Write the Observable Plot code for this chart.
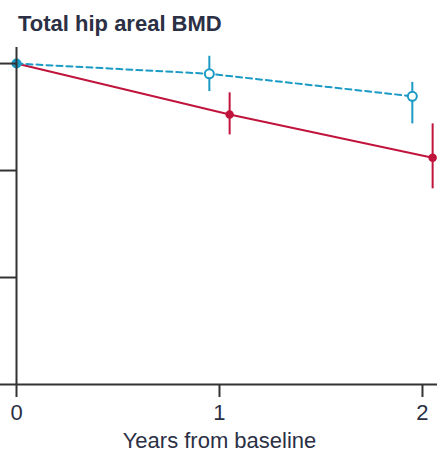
<!DOCTYPE html>
<html>
<head>
<meta charset="utf-8">
<script src="https://cdn.jsdelivr.net/npm/d3@7"></script>
<script src="https://cdn.jsdelivr.net/npm/@observablehq/plot@0.6"></script>
<style>
  html, body { margin: 0; padding: 0; background: #fff; }
  #wrap { position: relative; width: 437px; height: 452px; overflow: hidden; }
  #title {
    position: absolute; left: 18px; top: 13px;
    font-family: "Liberation Sans Narrow", "Liberation Sans", sans-serif;
    font-weight: bold; font-size: 22px; line-height: 1; color: #2b3045;
    white-space: nowrap;
  }
  #chart { position: absolute; left: 0; top: 38px; }
</style>
</head>
<body>
<div id="wrap">
  <div id="title">Total hip areal BMD</div>
  <div id="chart"></div>
</div>
<script>
// ---- data (percent change in total hip areal BMD) ----
const years = [0, 1, 2];
const groupAMean  = [0, -0.096, -0.306];   // blue, open circles, dashed
const groupALower = [0, -0.262, -0.564];
const groupAUpper = [0,  0.068, -0.176];
const groupBMean  = [0, -0.477, -0.881];   // red, filled circles, solid
const groupBLower = [0, -0.667, -1.171];
const groupBUpper = [0, -0.274, -0.564];
const xTicks = [0, 1, 2];
const yTicks = [0, -1, -2, -3];
const xLabel = "Years from baseline";

const blue = "#1a9ac4";
const red = "#c0143c";
const ink = "#2b3045";

const rowsA = years.map((yr, i) => ({year: yr, mean: groupAMean[i], lo: groupALower[i], hi: groupAUpper[i]}));
const rowsB = years.map((yr, i) => ({year: yr, mean: groupBMean[i], lo: groupBLower[i], hi: groupBUpper[i]}));
// small horizontal dodge so the two groups do not overlap after baseline
const xA = d => d.year > 0 ? d.year - 0.05 : d.year;
const xB = d => d.year > 0 ? d.year + 0.05 : d.year;

const chart = Plot.plot({
  width: 437,
  height: 414,
  marginLeft: 16,
  marginRight: 0,
  marginTop: 9,
  marginBottom: 68,
  style: {fontFamily: '"Liberation Sans Narrow", "Liberation Sans", sans-serif', fontSize: "22px", color: ink, background: "#fff"},
  x: {domain: [0, 2.074]},
  y: {domain: [-3, 0.15]},
  marks: [
    Plot.line(rowsB, {x: xB, y: "mean", stroke: red, strokeWidth: 2}),
    Plot.line(rowsA, {x: xA, y: "mean", stroke: blue, strokeWidth: 2, strokeDasharray: "6,4"}),
    Plot.ruleX(rowsB.filter(d => d.year > 0), {x: xB, y1: "lo", y2: "hi", stroke: red, strokeWidth: 2}),
    Plot.ruleX(rowsA.filter(d => d.year > 0), {x: xA, y1: "lo", y2: "hi", stroke: blue, strokeWidth: 2}),
    Plot.dot(rowsB.filter(d => d.year > 0), {x: xB, y: "mean", r: 3.5, fill: red, stroke: red}),
    Plot.dot(rowsA.filter(d => d.year > 0), {x: xA, y: "mean", r: 4.5, fill: "white", stroke: blue, strokeWidth: 2}),
    Plot.dot(rowsA.filter(d => d.year === 0), {x: xA, y: "mean", r: 5, fill: blue}),
    Plot.ruleX([0], {y1: -3, y2: 0.15, stroke: "#333", strokeWidth: 2}),
    Plot.ruleY([-3], {stroke: "#333", strokeWidth: 2}),
    Plot.axisY({ticks: yTicks, tickSize: 16, tickFormat: () => "", label: null, stroke: "#333", strokeWidth: 2}),
    Plot.axisX({ticks: xTicks, tickSize: 13, tickPadding: 7, tickFormat: d3.format("d"), label: null, stroke: "#333", strokeWidth: 2, fill: ink}),
    Plot.text([xLabel], {x: () => 1, frameAnchor: "bottom", dy: 56, lineAnchor: "middle", fill: ink, fontSize: 22})
  ]
});
document.getElementById("chart").appendChild(chart);
</script>
</body>
</html>
